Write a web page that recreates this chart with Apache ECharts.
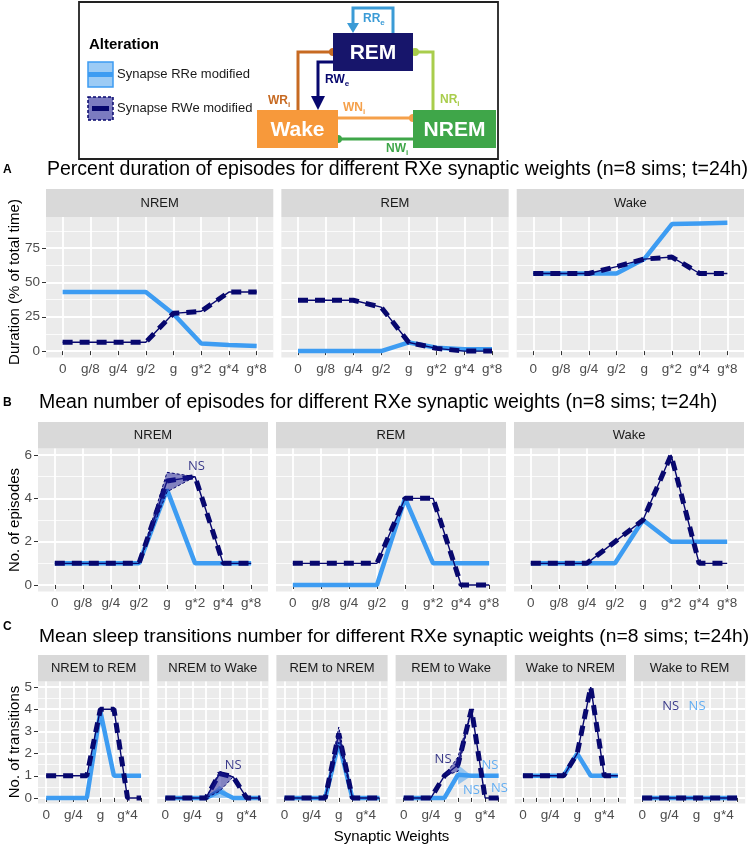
<!DOCTYPE html>
<html>
<head>
<meta charset="utf-8">
<script src="https://cdn.jsdelivr.net/npm/echarts@6/dist/echarts.min.js"></script>
<style>
html, body { margin: 0; padding: 0; background: #fff; }
#main { width: 750px; height: 846px; }
</style>
</head>
<body>
<div id="main"></div>
<script>
// synaptic weight levels (x categories)
const weights = ['0', 'g/8', 'g/4', 'g/2', 'g', 'g*2', 'g*4', 'g*8'];

// A - percent duration of episodes
const durFacets = ['NREM', 'REM', 'Wake'];
const durRRe = [
  [43, 43, 43, 43, 27, 5.5, 4.5, 3.8],
  [0, 0, 0, 0, 6.3, 2.5, 1.3, 1.3],
  [56.5, 56.5, 56.5, 56.5, 67, 92.5, 93, 93.5]
];
const durRWe = [
  [6.5, 6.5, 6.5, 6.5, 27.5, 29, 43, 43],
  [37, 37, 37, 32, 6.3, 2, 0, 0],
  [56.5, 56.5, 56.5, 61.5, 67, 68.5, 56.5, 56.5]
];

// B - mean number of episodes
const epiFacets = ['NREM', 'REM', 'Wake'];
const epiRRe = [
  [1, 1, 1, 1, 4.4, 1, 1, 1],
  [0, 0, 0, 0, 4, 1, 1, 1],
  [1, 1, 1, 1, 3, 2, 2, 2]
];
const epiRWe = [
  [1, 1, 1, 1, 4.8, 5, 1, 1],
  [1, 1, 1, 1, 4, 4, 0, 0],
  [1, 1, 1, 2, 3, 6, 1, 1]
];
const epiRWeLow = [null, null, null, 1, 4.3, 5, null, null];
const epiRWeHigh = [null, null, null, 1, 5.2, 5, null, null];

// C - mean sleep transitions
const transFacets = ['NREM to REM', 'NREM to Wake', 'REM to NREM', 'REM to Wake', 'Wake to NREM', 'Wake to REM'];
const transRRe = [
  [0, 0, 0, 0, 3.9, 1, 1, 1],
  [0, 0, 0, 0, 0.3, 0, 0, 0],
  [0, 0, 0, 0, 2.5, 0, 0, 0],
  [0, 0, 0, 0, 1.05, 1, 1, 1],
  [1, 1, 1, 1, 2, 1, 1, 1],
  [0, 0, 0, 0, 0, 0, 0, 0]
];
const transRWe = [
  [1, 1, 1, 1, 4, 4, 0, 0],
  [0, 0, 0, 0, 1.1, 0.95, 0, 0],
  [0, 0, 0, 0, 2.9, 0, 0, 0],
  [0, 0, 0, 1, 1.5, 4, 0, 0],
  [1, 1, 1, 1, 2, 5, 1, 1],
  [0, 0, 0, 0, 0, 0, 0, 0]
];
// ribbons (low / high), null where absent
const nwRRe = [[null, null, null, 0, 0, 0, null, null], [null, null, null, 0, 0.55, 0, null, null]];
const nwRWe = [[null, null, null, 0, 0.3, 0.95, null, null], [null, null, null, 0, 1.2, 0.95, null, null]];
const rnRWe = [[null, null, null, 0, 2.5, 0, null, null], [null, null, null, 0, 3.2, 0, null, null]];
const rwRRe = [[null, null, null, null, 0.6, 1, null, null], [null, null, null, null, 1.5, 1, null, null]];
const rwRWe = [[null, null, null, 1, 1.2, 4, null, null], [null, null, null, 1, 1.85, 4, null, null]];

const FONT = '"Liberation Sans", Arial, sans-serif';
const BLUE = '#3d9cf2';
const NAVY = '#07076e';

const chart = echarts.init(document.getElementById('main'));

const grids = [], xAxes = [], yAxes = [], series = [], gfx = [];

function pts(vals) {
  return vals.map((v, i) => [i, v]);
}

function text(x, y, str, font, fill, align, extra) {
  gfx.push(Object.assign({
    type: 'text', x: x, y: y, silent: true,
    style: { text: str, font: font, fill: fill, align: align || 'left', verticalAlign: 'middle' }
  }, extra || {}));
}

function addRibbon(gi, yi, lo, hi, dark) {
  const idx = lo.map((v, i) => (v == null ? -1 : i)).filter(i => i >= 0);
  series.push({
    type: 'custom', xAxisIndex: gi, yAxisIndex: yi, z: 4, silent: true,
    data: idx.map(i => [i, lo[i], hi[i]]),
    encode: { x: 0, y: [1, 2] },
    renderItem: (params, api) => {
      if (params.dataIndex !== 0) return null;
      const upper = idx.map(i => api.coord([i, hi[i]]));
      const lower = idx.slice().reverse().map(i => api.coord([i, lo[i]]));
      return {
        type: 'polygon',
        shape: { points: upper.concat(lower) },
        style: dark
          ? { fill: 'rgba(26,26,150,0.5)', stroke: NAVY, lineWidth: 1, lineDash: [3, 2] }
          : { fill: 'rgba(61,156,242,0.5)' }
      };
    }
  });
}

function addFacet(f) {
  const gi = grids.length;
  grids.push({
    left: f.left, top: f.top, width: f.width, height: f.height,
    show: true, backgroundColor: '#EBEBEB', borderWidth: 0
  });
  xAxes.push({
    type: 'value', gridIndex: gi, min: -0.6, max: 7.6,
    axisLine: { show: false },
    axisTick: { show: true, length: 4, lineStyle: { color: '#333' }, customValues: weights.map((w, i) => i) },
    axisLabel: {
      customValues: f.xLabels, formatter: v => weights[v],
      color: '#4D4D4D', fontSize: 13.5, fontFamily: FONT, margin: 5
    },
    splitLine: { show: true, lineStyle: { color: '#fff', width: 1.8 } }
  });
  // minor grid axis
  yAxes.push({
    type: 'value', gridIndex: gi, min: f.yMin, max: f.yMax, position: 'left',
    axisLine: { show: false }, axisTick: { show: false, customValues: f.minor },
    axisLabel: { show: false, customValues: f.minor },
    splitLine: { show: true, lineStyle: { color: '#fff', width: 0.8 } }
  });
  const yi = yAxes.length;
  yAxes.push({
    type: 'value', gridIndex: gi, min: f.yMin, max: f.yMax, position: 'left',
    axisLine: { show: false },
    axisTick: { show: f.showY, length: 4, lineStyle: { color: '#333' }, customValues: f.major },
    axisLabel: { show: f.showY, customValues: f.major, color: '#4D4D4D', fontSize: 13.5, fontFamily: FONT, margin: 6 },
    splitLine: { show: true, lineStyle: { color: '#fff', width: 1.8 } }
  });
  // strip
  gfx.push({
    type: 'rect', silent: true,
    shape: { x: f.left, y: f.stripTop, width: f.width, height: f.top - f.stripTop },
    style: { fill: '#D9D9D9' }
  });
  text(f.left + f.width / 2, (f.stripTop + f.top) / 2 + 0.5, f.name, '13px ' + FONT, '#1A1A1A', 'center');

  series.push({
    type: 'line', xAxisIndex: gi, yAxisIndex: yi, data: pts(f.rre), symbol: 'none',
    lineStyle: { color: BLUE, width: 4.5 }, z: 2, silent: true
  });
  series.push({
    type: 'line', xAxisIndex: gi, yAxisIndex: yi, data: pts(f.rwe), symbol: 'none',
    lineStyle: { color: NAVY, width: 1.4 }, z: 3, silent: true
  });
  series.push({
    type: 'line', xAxisIndex: gi, yAxisIndex: yi, data: pts(f.rwe), symbol: 'none',
    lineStyle: { color: NAVY, width: 5, type: [10, 7] }, z: 3, silent: true
  });
  (f.ribbons || []).forEach(r => addRibbon(gi, yi, r.lo, r.hi, r.dark));
  (f.notes || []).forEach(n => {
    series.push({
      type: 'scatter', xAxisIndex: gi, yAxisIndex: yi, data: [[n[0], n[1]]], symbolSize: 1,
      itemStyle: { color: 'transparent' }, z: 6, silent: true,
      label: { show: true, position: 'inside', formatter: 'NS', color: n[2], fontSize: 13, fontFamily: '"Open Sans", sans-serif' }
    });
  });
}

// row A
durFacets.forEach((name, k) => {
  addFacet({
    left: 46 + k * 235.35, top: 217, width: 227.3, height: 140.5, stripTop: 189, name: name,
    yMin: -4.65, yMax: 97.65, major: [0, 25, 50, 75], minor: [12.5, 37.5, 62.5, 87.5],
    showY: k === 0, xLabels: [0, 1, 2, 3, 4, 5, 6, 7], rre: durRRe[k], rwe: durRWe[k]
  });
});

// row B
epiFacets.forEach((name, k) => {
  addFacet({
    left: 38 + k * 238, top: 448.5, width: 230, height: 143, stripTop: 422, name: name,
    yMin: -0.3, yMax: 6.3, major: [0, 2, 4, 6], minor: [1, 3, 5],
    showY: k === 0, xLabels: [0, 1, 2, 3, 4, 5, 6, 7], rre: epiRRe[k], rwe: epiRWe[k],
    ribbons: k === 0 ? [{ lo: epiRWeLow, hi: epiRWeHigh, dark: true }] : [],
    notes: k === 0 ? [[5.05, 5.5, NAVY]] : []
  });
});

// row C
const cRibbons = [
  [],
  [{ lo: nwRRe[0], hi: nwRRe[1] }, { lo: nwRWe[0], hi: nwRWe[1], dark: true }],
  [{ lo: rnRWe[0], hi: rnRWe[1], dark: true }],
  [{ lo: rwRRe[0], hi: rwRRe[1] }, { lo: rwRWe[0], hi: rwRWe[1], dark: true }],
  [],
  []
];
const cNotes = [
  [],
  [[5, 1.45, NAVY]],
  [],
  [[2.9, 1.76, NAVY], [6.36, 1.45, BLUE], [5, 0.36, BLUE], [7.05, 0.42, BLUE]],
  [],
  [[2.1, 4.15, NAVY], [4.05, 4.15, BLUE]]
];
transFacets.forEach((name, k) => {
  addFacet({
    left: 38 + k * 119.2, top: 681.5, width: 111.2, height: 122, stripTop: 655, name: name,
    yMin: -0.25, yMax: 5.25, major: [0, 1, 2, 3, 4, 5], minor: [0.5, 1.5, 2.5, 3.5, 4.5],
    showY: k === 0, xLabels: [0, 2, 4, 6], rre: transRRe[k], rwe: transRWe[k],
    ribbons: cRibbons[k], notes: cNotes[k]
  });
});

// titles and axis titles
text(3, 170, 'A', 'bold 12px ' + FONT, '#000');
text(47, 170, 'Percent duration of episodes for different RXe synaptic weights (n=8 sims; t=24h)', '19.5px ' + FONT, '#000');
text(3, 403, 'B', 'bold 12px ' + FONT, '#000');
text(39, 403, 'Mean number of episodes for different RXe synaptic weights (n=8 sims; t=24h)', '19.5px ' + FONT, '#000');
text(3, 627, 'C', 'bold 12px ' + FONT, '#000');
text(39, 637, 'Mean sleep transitions number for different RXe synaptic weights (n=8 sims; t=24h)', '19.25px ' + FONT, '#000');
text(15, 282, 'Duration (% of total time)', '15px ' + FONT, '#000', 'center', { rotation: Math.PI / 2 });
text(15, 520, 'No. of episodes', '15px ' + FONT, '#000', 'center', { rotation: Math.PI / 2 });
text(15, 742, 'No. of transitions', '15px ' + FONT, '#000', 'center', { rotation: Math.PI / 2 });
text(391.5, 837, 'Synaptic Weights', '15px ' + FONT, '#000', 'center');

// network diagram legend box
const measure = document.createElement('canvas').getContext('2d');
function subLabel(x, y, main, sub, color) {
  const font = 'bold 12px ' + FONT;
  measure.font = font;
  const w = measure.measureText(main).width;
  text(x, y, main, font, color);
  text(x + w, y + 4, sub, 'bold 8px ' + FONT, color);
}
gfx.push({ type: 'rect', silent: true, shape: { x: 79, y: 2, width: 419, height: 157 }, style: { fill: '#fff', stroke: '#222', lineWidth: 1.8 } });
text(89, 45, 'Alteration', 'bold 15px ' + FONT, '#000');
gfx.push({ type: 'rect', silent: true, shape: { x: 88, y: 62, width: 25, height: 25 }, style: { fill: '#9ccbf5', stroke: BLUE, lineWidth: 1.5 } });
gfx.push({ type: 'line', silent: true, shape: { x1: 88, y1: 74.5, x2: 113, y2: 74.5 }, style: { stroke: BLUE, lineWidth: 5 } });
text(117, 74, 'Synapse RRe modified', '13px ' + FONT, '#1A1A1A');
gfx.push({ type: 'rect', silent: true, shape: { x: 88, y: 97, width: 25, height: 23 }, style: { fill: '#7b7bc0', stroke: NAVY, lineWidth: 1.5, lineDash: [3, 2] } });
gfx.push({ type: 'line', silent: true, shape: { x1: 92, y1: 108.5, x2: 109, y2: 108.5 }, style: { stroke: NAVY, lineWidth: 5 } });
text(117, 108, 'Synapse RWe modified', '13px ' + FONT, '#1A1A1A');

// connections
const cRR = '#3b9bd6', cWR = '#c76a22', cNR = '#a9cd4c', cWN = '#f5a04a', cNW = '#3fa649';
gfx.push({ type: 'polyline', silent: true, shape: { points: [[393, 33], [393, 8], [353, 8], [353, 26]] }, style: { stroke: cRR, lineWidth: 3, fill: null } });
gfx.push({ type: 'polygon', silent: true, shape: { points: [[347, 23], [359, 23], [353, 33]] }, style: { fill: cRR } });
subLabel(363, 19, 'RR', 'e', cRR);
gfx.push({ type: 'polyline', silent: true, shape: { points: [[333, 52], [298, 52], [298, 110]] }, style: { stroke: cWR, lineWidth: 3, fill: null } });
gfx.push({ type: 'circle', silent: true, shape: { cx: 333, cy: 52, r: 4 }, style: { fill: cWR } });
subLabel(268, 101, 'WR', 'i', cWR);
gfx.push({ type: 'polyline', silent: true, shape: { points: [[337, 62], [318, 62], [318, 99]] }, style: { stroke: NAVY, lineWidth: 3, fill: null } });
gfx.push({ type: 'polygon', silent: true, shape: { points: [[311, 96], [325, 96], [318, 110]] }, style: { fill: NAVY } });
subLabel(325, 80, 'RW', 'e', NAVY);
gfx.push({ type: 'polyline', silent: true, shape: { points: [[415, 52], [433, 52], [433, 110]] }, style: { stroke: cNR, lineWidth: 3, fill: null } });
gfx.push({ type: 'circle', silent: true, shape: { cx: 415, cy: 52, r: 4 }, style: { fill: cNR } });
subLabel(440, 100, 'NR', 'i', cNR);
gfx.push({ type: 'line', silent: true, shape: { x1: 338, y1: 118, x2: 413, y2: 118 }, style: { stroke: cWN, lineWidth: 3 } });
gfx.push({ type: 'circle', silent: true, shape: { cx: 413, cy: 118, r: 4 }, style: { fill: cWN } });
subLabel(343, 108, 'WN', 'i', cWN);
gfx.push({ type: 'line', silent: true, shape: { x1: 338, y1: 139, x2: 413, y2: 139 }, style: { stroke: cNW, lineWidth: 3 } });
gfx.push({ type: 'circle', silent: true, shape: { cx: 338, cy: 139, r: 4 }, style: { fill: cNW } });
subLabel(386, 149, 'NW', 'i', cNW);

// state boxes
[['REM', 333, 33, 80, '#17156b'], ['Wake', 257, 110, 81, '#f7993b'], ['NREM', 413, 110, 83, '#3fa649']].forEach(b => {
  gfx.push({ type: 'rect', silent: true, shape: { x: b[1], y: b[2], width: b[3], height: 38 }, style: { fill: b[4] } });
  text(b[1] + b[3] / 2, b[2] + 20, b[0], 'bold 21px ' + FONT, '#fff', 'center');
});

chart.setOption({
  animation: false,
  backgroundColor: '#fff',
  grid: grids,
  xAxis: xAxes,
  yAxis: yAxes,
  series: series,
  graphic: { elements: gfx }
});
</script>
</body>
</html>
